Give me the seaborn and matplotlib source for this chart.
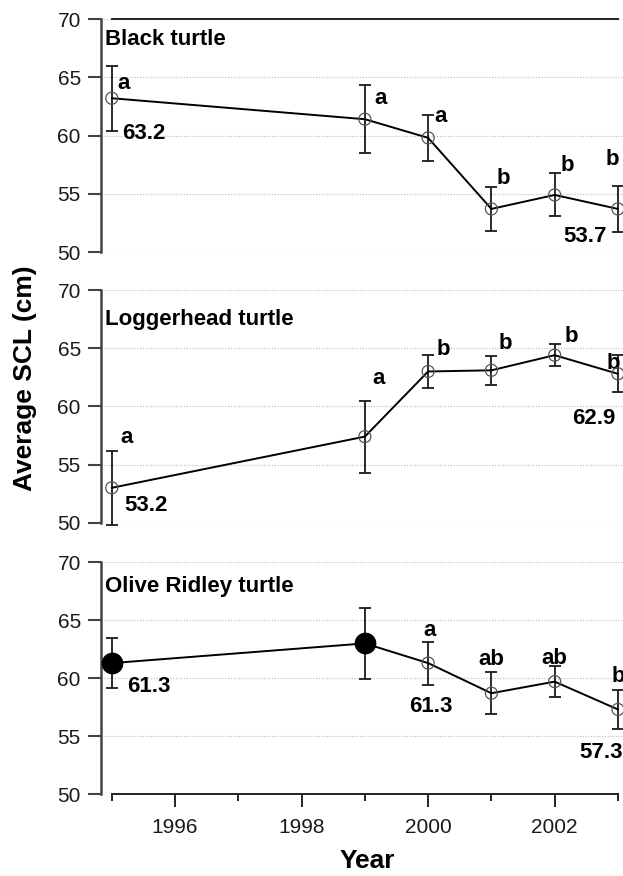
import matplotlib
matplotlib.use('Agg')
import matplotlib.pyplot as plt
import seaborn as sns
import pandas as pd

sns.set_style('white')
plt.rcParams['font.family'] = ['Liberation Sans', 'DejaVu Sans']

years = [1995, 1999, 2000, 2001, 2002, 2003]

black_mean = [63.2, 61.4, 59.8, 53.7, 54.9, 53.7]
black_sd = [2.8, 2.9, 1.95, 1.9, 1.85, 2.0]

logger_mean = [53.0, 57.4, 63.0, 63.1, 64.4, 62.8]
logger_sd = [3.2, 3.1, 1.45, 1.25, 0.95, 1.6]

olive_mean = [61.3, 63.0, 61.3, 58.7, 59.7, 57.3]
olive_sd = [2.15, 3.05, 1.85, 1.8, 1.35, 1.65]
olive_filled = [True, True, False, False, False, False]

species = ['Black turtle', 'Loggerhead turtle', 'Olive Ridley turtle']

# (text, x, y, ha)
black_notes = [('a', 1995.09, 64.5, 'left'), ('63.2', 1995.17, 60.2, 'left'),
               ('a', 1999.15, 63.2, 'left'), ('a', 2000.1, 61.6, 'left'),
               ('b', 2001.08, 56.3, 'left'), ('b', 2002.1, 57.4, 'left'),
               ('b', 2002.81, 57.9, 'left'), ('53.7', 2002.82, 51.3, 'right')]
logger_notes = [('a', 1995.13, 57.35, 'left'), ('53.2', 1995.2, 51.45, 'left'),
                ('a', 1999.12, 62.4, 'left'), ('b', 2000.13, 64.85, 'left'),
                ('b', 2001.11, 65.4, 'left'), ('b', 2002.16, 66.0, 'left'),
                ('b', 2002.82, 63.7, 'left'), ('62.9', 2002.28, 59.0, 'left')]
olive_notes = [('61.3', 1995.25, 59.25, 'left'), ('a', 2000.02, 64.15, 'center'),
               ('61.3', 2000.04, 57.55, 'center'), ('ab', 2001.0, 61.6, 'center'),
               ('ab', 2002.0, 61.7, 'center'), ('b', 2002.9, 60.1, 'left'),
               ('57.3', 2002.39, 53.6, 'left')]

panels = [
    (black_mean, black_sd, [False] * 6, black_notes, 68.2),
    (logger_mean, logger_sd, [False] * 6, logger_notes, 67.5),
    (olive_mean, olive_sd, olive_filled, olive_notes, 67.9),
]

fig = plt.figure(figsize=(6.23, 8.76), dpi=100)
boxes = [(101 / 623, 0.7123, 522 / 623, 0.266),
         (101 / 623, 0.4033, 522 / 623, 0.2656),
         (101 / 623, 0.0936, 522 / 623, 0.2645)]

axes = []
for i, (mean, sd, filled, notes, ty) in enumerate(panels):
    ax = fig.add_axes(boxes[i])
    axes.append(ax)
    df = pd.DataFrame({'year': years, 'mean': mean, 'sd': sd, 'filled': filled})

    eb = ax.errorbar(df['year'], df['mean'], yerr=df['sd'], fmt='none', ecolor='#1a1a1a',
                     elinewidth=1.3, capsize=4, capthick=1.3, zorder=2)
    for art in eb.lines[1] + eb.lines[2]:
        art.set_clip_on(False)
    sns.lineplot(data=df, x='year', y='mean', ax=ax, color='black', lw=1.4, zorder=3)
    op = df[~df['filled']]
    fi = df[df['filled']]
    sns.scatterplot(data=op, x='year', y='mean', ax=ax, s=75, facecolors='none',
                    edgecolor='#555555', linewidth=0.9, zorder=4)
    if len(fi):
        sns.scatterplot(data=fi, x='year', y='mean', ax=ax, s=210, color='black',
                        edgecolor='black', zorder=4)

    for txt, x, y, ha in notes:
        ax.text(x, y, txt, ha=ha, va='center', fontsize=16, fontweight='bold',
                color='black')
    ax.text(1994.9, ty, species[i], ha='left', va='center', fontsize=16,
            fontweight='bold', color='black')

    ax.set_xlim(1994.83, 2003.08)
    ax.set_ylim(50, 70)
    ax.set_yticks([50, 55, 60, 65, 70])
    ax.yaxis.grid(True, linestyle=(0, (1, 1.2)), color='#c4c4c4', lw=0.9)
    ax.xaxis.grid(False)
    ax.set_xlabel('')
    ax.set_ylabel('')
    for s in ['right', 'top', 'bottom']:
        ax.spines[s].set_visible(False)
    ax.spines['left'].set_bounds(50, 70)
    ax.spines['left'].set_color('#444444')
    ax.spines['left'].set_linewidth(1.8)
    ax.tick_params(axis='y', which='both', left=True, length=9.5, width=1.5,
                   color='#444444', labelsize=15, pad=5, labelcolor='#1a1a1a')
    ax.set_facecolor('none')

    if i < 2:
        ax.set_xticks([])
    if i == 0:
        ax.spines['top'].set_visible(True)
        ax.spines['top'].set_bounds(1995, 2003)
        ax.spines['top'].set_color('#222222')
        ax.spines['top'].set_linewidth(1.4)

ax = axes[2]
ax.spines['bottom'].set_visible(True)
ax.spines['bottom'].set_bounds(1995, 2003)
ax.spines['bottom'].set_color('#222222')
ax.spines['bottom'].set_linewidth(1.4)
ax.set_xticks([1996, 1998, 2000, 2002])
ax.set_xticks(years + [1996, 1997, 1998], minor=True)
ax.tick_params(axis='x', which='major', bottom=True, length=9.5, width=1.4,
               color='#222222', labelsize=15, pad=8, labelcolor='#1a1a1a')
ax.tick_params(axis='x', which='minor', bottom=True, length=5, width=1.4,
               color='#222222')

fig.text(25 / 623, 1 - 378 / 876, 'Average SCL (cm)', rotation=90, ha='center',
         va='center', fontsize=19, fontweight='bold', color='black')
fig.text(367 / 623, 1 - 861 / 876, 'Year', ha='center', va='center', fontsize=19,
         fontweight='bold', color='black')

fig.savefig('out.png', dpi=100)
